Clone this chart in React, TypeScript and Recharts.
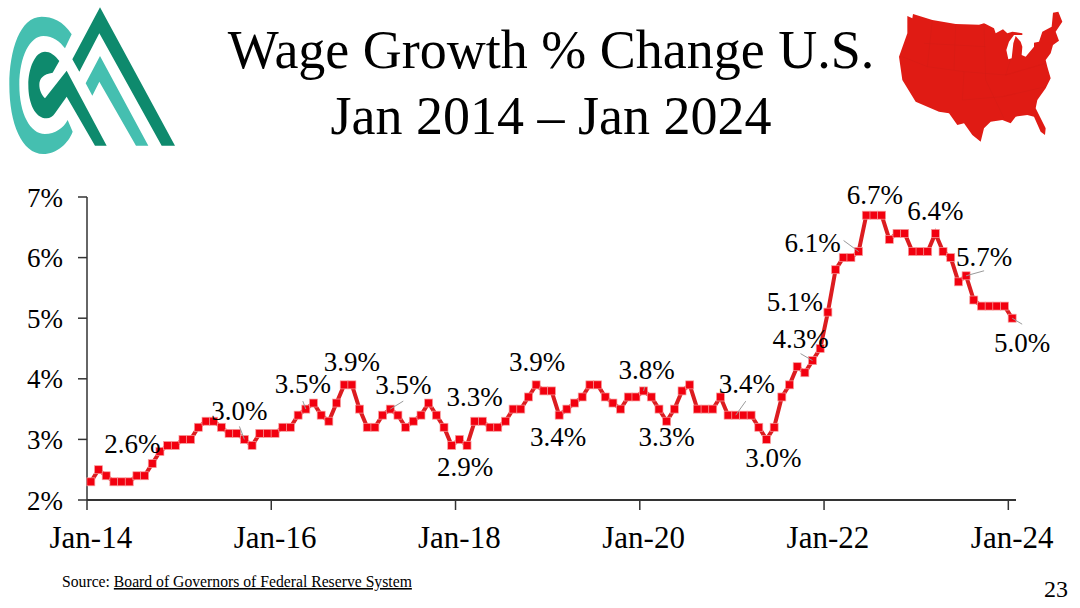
import React from "react";
import { LineChart, Line, XAxis, YAxis } from "recharts";

const SERIF = '"Liberation Serif", serif';

const YEARS = ["14", "15", "16", "17", "18", "19", "20", "21", "22", "23"];
const MONTHS = ["Jan", "Feb", "Mar", "Apr", "May", "Jun", "Jul", "Aug", "Sep", "Oct", "Nov", "Dec"];
const categories = [...YEARS.flatMap((y) => MONTHS.map((m) => `${m}-${y}`)), "Jan-24"];

const wageGrowth = [
  2.3, 2.5, 2.4, 2.3, 2.3, 2.3, 2.4, 2.4, 2.6, 2.8, 2.9, 2.9,
  3.0, 3.0, 3.2, 3.3, 3.3, 3.2, 3.1, 3.1, 3.0, 2.9, 3.1, 3.1,
  3.1, 3.2, 3.2, 3.4, 3.5, 3.6, 3.4, 3.3, 3.6, 3.9, 3.9, 3.5,
  3.2, 3.2, 3.4, 3.5, 3.4, 3.2, 3.3, 3.4, 3.6, 3.4, 3.2, 2.9,
  3.0, 2.9, 3.3, 3.3, 3.2, 3.2, 3.3, 3.5, 3.5, 3.7, 3.9, 3.8,
  3.8, 3.4, 3.5, 3.6, 3.7, 3.9, 3.9, 3.7, 3.6, 3.5, 3.7, 3.7,
  3.8, 3.7, 3.5, 3.3, 3.5, 3.8, 3.9, 3.5, 3.5, 3.5, 3.7, 3.4,
  3.4, 3.4, 3.4, 3.2, 3.0, 3.2, 3.7, 3.9, 4.2, 4.1, 4.3, 4.5,
  5.1, 5.8, 6.0, 6.0, 6.1, 6.7, 6.7, 6.7, 6.3, 6.4, 6.4, 6.1,
  6.1, 6.1, 6.4, 6.1, 6.0, 5.6, 5.7, 5.3, 5.2, 5.2, 5.2, 5.2,
  5.0,
];

const xTicks = ["Jan-14", "Jan-16", "Jan-18", "Jan-20", "Jan-22", "Jan-24"];
const yTicks = [2, 3, 4, 5, 6, 7];

const chartData = categories.map((month, i) => ({ month, growth: wageGrowth[i] }));

// label centre relative to the point, and optional start of the grey leader line
const callouts: Record<string, { dx: number; dy: number; leader?: [number, number] }> = {
  "Sep-14": { dx: -20, dy: -20 },
  "Sep-15": { dx: -5, dy: -28, leader: [-5, -13] },
  "May-16": { dx: -3, dy: -25, leader: [-3, -8] },
  "Nov-16": { dx: 0, dy: -23 },
  "Apr-17": { dx: 13, dy: -24, leader: [13, -8] },
  "Feb-18": { dx: -2, dy: 22 },
  "Mar-18": { dx: 0, dy: -24 },
  "Nov-18": { dx: 1, dy: -23 },
  "Feb-19": { dx: -1, dy: 22 },
  "Jan-20": { dx: 3, dy: -21, leader: [1, -4] },
  "Apr-20": { dx: 0, dy: 16 },
  "Jan-21": { dx: 11, dy: -31, leader: [10, -14] },
  "May-21": { dx: 7, dy: 19 },
  "Nov-21": { dx: -12, dy: -22, leader: [-12, -7] },
  "Jan-22": { dx: -33, dy: -10 },
  "May-22": { dx: -46, dy: -9, leader: [-15, -11] },
  "Jul-22": { dx: 1, dy: -20 },
  "Mar-23": { dx: 0, dy: -22 },
  "Jul-23": { dx: 18, dy: -19, leader: [18, -5] },
  "Jan-24": { dx: 10, dy: 25, leader: [10, 6] },
};

const SquareDot = (props: any) => (
  <rect
    key={props.index}
    x={props.cx - 4}
    y={props.cy - 4}
    width={8}
    height={8}
    fill="#f2000f"
    stroke="#f7a0a0"
    strokeWidth={0.7}
  />
);

const CalloutLabel = (props: any) => {
  const c = callouts[categories[props.index]];
  if (!c) return <g key={props.index} />;
  const { x, y, value } = props;
  return (
    <g key={props.index}>
      {c.leader && (
        <line x1={x + c.leader[0]} y1={y + c.leader[1]} x2={x} y2={y} stroke="#9a9a9a" strokeWidth={1} />
      )}
      <text
        x={x + c.dx}
        y={y + c.dy}
        textAnchor="middle"
        dominantBaseline="central"
        fontFamily={SERIF}
        fontSize={27}
        fill="#000"
      >
        {`${value.toFixed(1)}%`}
      </text>
    </g>
  );
};

const MonthTick = (props: any) => {
  const { x, y, payload } = props;
  const band = 7.68;
  return (
    <g>
      <line x1={x - band / 2} y1={y} x2={x - band / 2} y2={y + 10} stroke="#333" strokeWidth={1.5} />
      <text x={x} y={y + 48} textAnchor="middle" fontFamily={SERIF} fontSize={31} fill="#000">
        {payload.value}
      </text>
    </g>
  );
};

const Logo = () => (
  <svg
    width={200}
    height={160}
    viewBox="0 0 600 480"
    style={{ position: "absolute", left: 0, top: 0 }}
  >
    <path
      fill="#45bfb0"
      d="M215 103 C190 62 155 50 125 50 C60 50 28 150 28 255 C28 370 65 462 130 462 C170 462 205 430 218 395 L203 360 C190 385 165 402 135 402 C90 402 58 340 58 255 C58 170 90 108 130 108 C160 108 180 125 195 145 Z"
    />
    <path
      fill="#0e8a6d"
      d="M178 183 C165 165 150 155 135 155 C105 155 85 205 85 255 C85 310 105 355 140 355 C150 355 158 350 165 340 L200 290 L285 437 L320 437 L200 212 L135 295 C125 285 118 270 118 255 C118 235 130 222 158 218 Z"
    />
    <path fill="#0e8a6d" d="M300 22 L525 437 L485 437 L298 100 L238 215 L217 178 Z" />
    <path fill="#45bfb0" d="M300 168 L445 437 L408 437 L298 245 L277 287 L257 250 Z" />
  </svg>
);

const UsMap = () => (
  <svg
    width={190}
    height={150}
    viewBox="0 0 570 450"
    style={{ position: "absolute", left: 889, top: 0 }}
  >
    <path
      fill="#e01b14"
      d="M55 48 L70 55 L72 42 L130 60 L200 72 L270 74 L285 70 L290 72 L315 85 L320 100 L342 88 L355 100 L370 95 L400 100 L400 105 L375 105 L360 125 L352 150 L358 178 L368 175 L373 130 L380 108 L395 125 L400 140 L398 165 L410 170 L435 140 L435 128 L450 125 L460 95 L488 80 L492 38 L508 35 L520 65 L500 95 L510 122 L492 135 L485 160 L470 180 L475 200 L485 235 L470 265 L445 300 L440 325 L470 385 L468 405 L455 395 L435 350 L415 345 L380 350 L365 370 L340 360 L305 365 L285 385 L275 425 L250 405 L225 370 L205 375 L180 340 L150 335 L80 305 L40 240 L30 170 L55 100 Z"
    />
    <path
      fill="none"
      stroke="#cf1a14"
      strokeWidth={1}
      d="M130 60 L115 200 L225 215 L220 300 M200 72 L195 210 M285 75 L290 240 L345 355 M105 130 L290 140 M225 215 L350 225 L365 178 M350 225 L470 190 M340 290 L470 260 M220 300 L340 290 M40 170 L115 200"
    />
  </svg>
);

const App = () => (
  <div style={{ position: "absolute", left: 0, top: 0, width: 1080, height: 608, background: "#fff", fontFamily: SERIF }}>
    <Logo />
    <UsMap />
    <svg width={1080} height={608} style={{ position: "absolute", left: 0, top: 0 }}>
      <text x={551} y={68} textAnchor="middle" fontSize={54} fill="#000">
        Wage Growth % Change U.S.
      </text>
      <text x={551} y={134} textAnchor="middle" fontSize={54} fill="#000">
        Jan 2014 – Jan 2024
      </text>
      <text x={62} y={587} fontSize={15.7} fill="#000">
        Source: <tspan textDecoration="underline">Board of Governors of Federal Reserve System</tspan>
      </text>
      <text x={1044} y={597} fontSize={24} fill="#000">
        23
      </text>
    </svg>
    <div style={{ position: "absolute", left: 0, top: 0 }}>
      <LineChart
        width={1080}
        height={608}
        data={chartData}
        margin={{ top: 197, right: 64, bottom: 0, left: 0 }}
      >
        <XAxis
          dataKey="month"
          scale="band"
          height={108}
          ticks={xTicks}
          interval={0}
          tick={<MonthTick />}
          tickSize={0}
          tickMargin={0}
          tickLine={false}
          axisLine={{ stroke: "#333", strokeWidth: 2 }}
        />
        <YAxis
          width={87}
          domain={[2, 7]}
          ticks={yTicks}
          tickFormatter={(v: number) => `${v}%`}
          tick={{ fontFamily: SERIF, fontSize: 27, fill: "#000" }}
          tickSize={9}
          tickMargin={15}
          tickLine={{ stroke: "#333", strokeWidth: 1.5 }}
          axisLine={{ stroke: "#333", strokeWidth: 1.5 }}
        />
        <Line
          dataKey="growth"
          type="linear"
          stroke="#dc1c20"
          strokeWidth={4}
          dot={<SquareDot />}
          activeDot={false}
          label={<CalloutLabel />}
          isAnimationActive={false}
        />
      </LineChart>
    </div>
  </div>
);

export default App;
